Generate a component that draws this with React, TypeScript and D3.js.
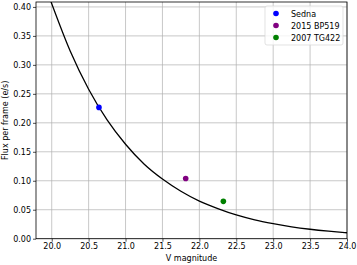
import React, { useRef, useEffect } from 'react';
import * as d3 from 'd3';

// curve (V magnitude -> flux per frame)
const curveV = [19.99, 20.25, 20.5, 20.75, 21.0, 21.25, 21.5, 21.75, 22.0, 22.25, 22.5, 22.75, 23.0, 23.25, 23.5, 23.75, 24.0];
const curveFlux = [0.409, 0.324, 0.258, 0.205, 0.163, 0.129, 0.103, 0.082, 0.065, 0.052, 0.041, 0.0325, 0.026, 0.0205, 0.0163, 0.013, 0.0103];

const objectNames = ['Sedna', '2015 BP519', '2007 TG422'];
const objectV = [20.64, 21.815, 22.325];
const objectFlux = [0.2266, 0.104, 0.0645];
const objectColors = ['#0000ff', '#800080', '#008000'];

const xTicks = [20.0, 20.5, 21.0, 21.5, 22.0, 22.5, 23.0, 23.5, 24.0];
const yTicks = [0.0, 0.05, 0.1, 0.15, 0.2, 0.25, 0.3, 0.35, 0.4];

const App = () => {
  const svgRef = useRef<SVGSVGElement>(null);

  useEffect(() => {
    const svg = d3.select(svgRef.current);
    svg.selectAll('*').remove();
    const width = 357;
    const height = 265;
    const margin = { top: 2, right: 10, bottom: 27, left: 36 };
    const font = 'DejaVu Sans, sans-serif';

    const x = d3.scaleLinear()
      .domain([19.787, 24.0])
      .range([margin.left, width - margin.right]);
    const y = d3.scaleLinear()
      .domain([0, 0.4085])
      .range([height - margin.bottom + 0.7, margin.top]);

    const clipId = 'plot-clip';
    svg.append('clipPath').attr('id', clipId)
      .append('rect')
      .attr('x', margin.left).attr('y', margin.top)
      .attr('width', width - margin.right - margin.left)
      .attr('height', y(0) - margin.top);

    // grid
    const grid = svg.append('g').attr('stroke', '#b0b0b0').attr('stroke-width', 0.7);
    grid.selectAll('line.gx').data(xTicks).join('line')
      .attr('x1', d => x(d)).attr('x2', d => x(d))
      .attr('y1', margin.top).attr('y2', y(0));
    grid.selectAll('line.gy').data(yTicks).join('line')
      .attr('y1', d => y(d)).attr('y2', d => y(d))
      .attr('x1', margin.left).attr('x2', width - margin.right);

    // curve
    const line = d3.line<number>()
      .x((d, i) => x(curveV[i]))
      .y(d => y(d))
      .curve(d3.curveMonotoneX);
    svg.append('path')
      .datum(curveFlux)
      .attr('clip-path', `url(#${clipId})`)
      .attr('d', line)
      .attr('fill', 'none')
      .attr('stroke', '#000')
      .attr('stroke-width', 1.3);

    // points
    svg.append('g').selectAll('circle').data(objectV).join('circle')
      .attr('cx', d => x(d))
      .attr('cy', (d, i) => y(objectFlux[i]))
      .attr('r', 2.8)
      .attr('fill', (d, i) => objectColors[i]);

    // axes
    const xAxis = svg.append('g')
      .attr('transform', `translate(0,${y(0)})`)
      .call(d3.axisBottom(x).tickValues(xTicks).tickFormat(d3.format('.1f')).tickSizeOuter(0).tickSize(3).tickPadding(2));
    const yAxis = svg.append('g')
      .attr('transform', `translate(${margin.left},0)`)
      .call(d3.axisLeft(y).tickValues(yTicks).tickFormat(d3.format('.2f')).tickSizeOuter(0).tickSize(3).tickPadding(2));
    [xAxis, yAxis].forEach(a => {
      a.select('.domain').remove();
      a.selectAll('line').attr('stroke', '#000').attr('stroke-width', 0.7);
      a.selectAll('text').attr('font-family', font).attr('font-size', 8).attr('fill', '#000');
    });

    // frame
    svg.append('rect')
      .attr('x', margin.left).attr('y', margin.top)
      .attr('width', width - margin.right - margin.left)
      .attr('height', y(0) - margin.top)
      .attr('fill', 'none').attr('stroke', '#000').attr('stroke-width', 0.8);

    // labels
    svg.append('text')
      .attr('x', (margin.left + width - margin.right) / 2)
      .attr('y', 261)
      .attr('text-anchor', 'middle')
      .attr('font-family', font).attr('font-size', 8)
      .text('V magnitude');
    svg.append('text')
      .attr('transform', `translate(8,${(margin.top + y(0)) / 2}) rotate(-90)`)
      .attr('text-anchor', 'middle')
      .attr('font-family', font).attr('font-size', 8)
      .text('Flux per frame (e/s)');

    // legend
    const lg = svg.append('g').attr('transform', 'translate(265,6)');
    lg.append('rect')
      .attr('width', 78).attr('height', 39).attr('rx', 2)
      .attr('fill', '#fff').attr('fill-opacity', 0.8)
      .attr('stroke', '#d6d6d6').attr('stroke-width', 0.7);
    objectNames.forEach((name, i) => {
      const row = lg.append('g').attr('transform', `translate(0,${7.5 + i * 12})`);
      row.append('circle').attr('cx', 11).attr('cy', 0).attr('r', 2.8).attr('fill', objectColors[i]);
      row.append('text').attr('x', 26).attr('y', 3)
        .attr('font-family', font).attr('font-size', 8)
        .text(name);
    });
  }, []);

  return <svg ref={svgRef} width={357} height={265} style={{ position: 'absolute', left: 0, top: 0, background: '#fff' }}></svg>;
};

export default App;
